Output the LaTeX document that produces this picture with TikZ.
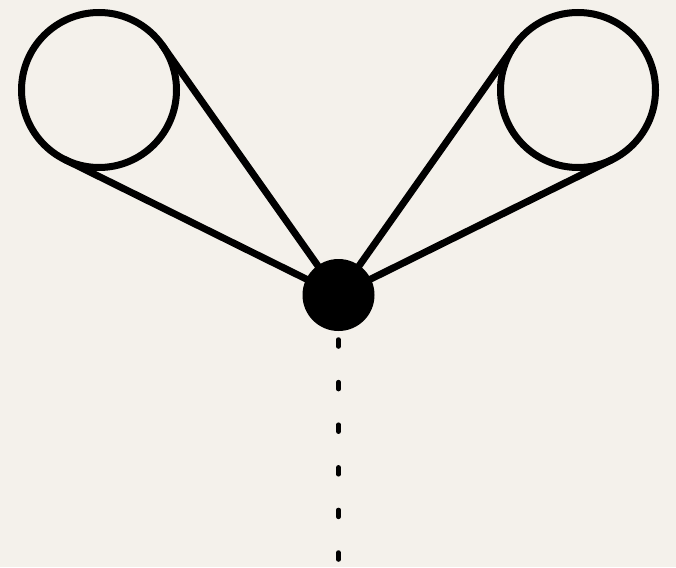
\documentclass[tikz,border=0pt]{standalone}
\usetikzlibrary{calc}
\definecolor{paper}{HTML}{F4F1EB}
\begin{document}
\begin{tikzpicture}[x=1pt,y=-1pt,
  ring/.style={circle,draw=black,line width=7pt,minimum size=155pt,inner sep=0pt,outer sep=0pt},
  hub/.style={circle,fill=black,minimum size=72pt,inner sep=0pt,outer sep=0pt},
  tie/.style={line width=7pt,line cap=round},
  drop/.style={line width=4.5pt,line cap=round,dash pattern=on 7pt off 35.6pt}]
  \fill[paper] (0,0) rectangle (676,567);
  \useasboundingbox (0,0) rectangle (676,567);
  \node[ring] (L) at (99,90) {};
  \node[ring] (R) at (578,90) {};
  \coordinate (P) at (338.5,295);
  \draw[tie] (P) -- (tangent cs:node=L,point={(P)},solution=1);
  \draw[tie] (P) -- (tangent cs:node=L,point={(P)},solution=2);
  \draw[tie] (P) -- (tangent cs:node=R,point={(P)},solution=1);
  \draw[tie] (P) -- (tangent cs:node=R,point={(P)},solution=2);
  \node[hub] (D) at (P) {};
  \coordinate (E) at (338.5,580);
  \draw[drop] ($(D.south)+(0,8.5)$) -- (E);
\end{tikzpicture}
\end{document}
